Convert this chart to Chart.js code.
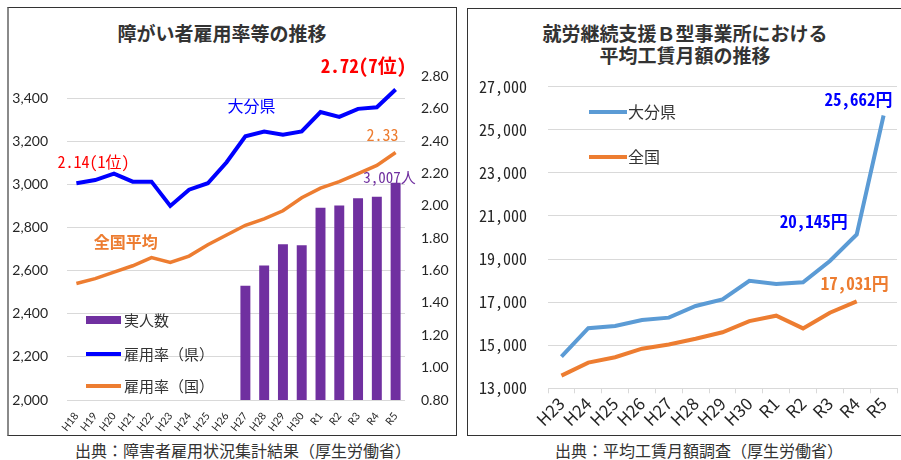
<!DOCTYPE html>
<html>
<head>
<meta charset="utf-8">
<script src="https://cdn.jsdelivr.net/npm/chart.js@4/dist/chart.umd.min.js"></script>
<style>
body { margin: 0; width: 901px; height: 460px; background: #fff; position: relative; overflow: hidden; font-family: 'Noto Sans CJK JP', sans-serif; color: #333; }
.panel { position: absolute; box-sizing: border-box; border: 1px solid #333; }
.title { position: absolute; text-align: center; font-weight: bold; font-size: 19px; line-height: 22px; color: #333; }
.caption { position: absolute; text-align: center; font-size: 16px; line-height: 20px; color: #333; }
canvas { position: absolute; }
</style>
</head>
<body>
<div class="panel" style="left:7px;top:7px;width:450px;height:429px;border-left:2px solid #8a8a8a;"></div>
<div class="panel" style="left:467px;top:8px;width:460px;height:428px;"></div>

<div class="title" style="left:0;top:22px;width:444px;">障がい者雇用率等の推移</div>
<div class="title" style="left:485px;top:22px;width:400px;">就労継続支援Ｂ型事業所における<br>平均工賃月額の推移</div>

<canvas id="left" width="448" height="426" style="left:8px;top:8px;"></canvas>
<canvas id="right" width="432" height="425" style="left:469px;top:9px;"></canvas>

<div class="caption" style="left:43px;top:440px;width:400px;">出典：障害者雇用状況集計結果（厚生労働省）</div>
<div class="caption" style="left:499px;top:440px;width:400px;">出典：平均工賃月額調査（厚生労働省）</div>

<script>
// 左：障がい者雇用率等
const years = ['H18','H19','H20','H21','H22','H23','H24','H25','H26','H27','H28','H29','H30','R1','R2','R3','R4','R5'];
const employees = [null,null,null,null,null,null,null,null,null,2530,2624,2722,2717,2891,2902,2935,2943,3007];
const rateOita = [2.14,2.16,2.20,2.15,2.15,2.00,2.10,2.14,2.27,2.43,2.46,2.44,2.46,2.58,2.55,2.60,2.61,2.72];
const rateJapan = [1.52,1.55,1.59,1.63,1.68,1.65,1.69,1.76,1.82,1.88,1.92,1.97,2.05,2.11,2.15,2.20,2.25,2.33];

// 右：平均工賃月額
const fiscalYears = ['H23','H24','H25','H26','H27','H28','H29','H30','R1','R2','R3','R4','R5'];
const wageOita = [14470,15790,15890,16170,16280,16820,17130,17990,17840,17920,18910,20145,25662];
const wageJapan = [13590,14190,14440,14840,15030,15300,15600,16120,16370,15780,16510,17031,null];

const MONO = "'Noto Sans Mono CJK JP', 'DejaVu Sans Mono', monospace";
const JP = "'Noto Sans CJK JP', sans-serif";
const PURPLE = '#7030A0', BLUE = '#0000FF', ORANGE = '#ED7D31', SKY = '#5B9BD5';

function text(ctx, str, x, y, color, font, align) {
    ctx.save();
    ctx.fillStyle = color;
    ctx.font = font;
    ctx.textAlign = align || 'center';
    ctx.textBaseline = 'middle';
    ctx.fillText(str, x, y);
    ctx.restore();
}

function swatch(ctx, x, y, w, color, lw) {
    ctx.save();
    ctx.strokeStyle = color;
    ctx.lineWidth = lw;
    ctx.beginPath();
    ctx.moveTo(x, y);
    ctx.lineTo(x + w, y);
    ctx.stroke();
    ctx.restore();
}

const leftNotes = {
    id: 'leftNotes',
    afterDatasetsDraw(chart) {
        const { ctx, chartArea: a, scales: { x, y, y1 } } = chart;
        const last = years.length - 1;
        text(ctx, '2.14(1位)', x.getPixelForValue(0) + 17, y1.getPixelForValue(rateOita[0]) - 21, '#FF0000', '16px ' + MONO);
        text(ctx, '2.72(7位)', x.getPixelForValue(last) - 32, y1.getPixelForValue(rateOita[last]) - 24, '#FF0000', 'bold 19px ' + MONO);
        text(ctx, '2.33', x.getPixelForValue(last) - 13, y1.getPixelForValue(rateJapan[last]) - 18, ORANGE, '16px ' + MONO);
        text(ctx, '3,007人', x.getPixelForValue(last) - 6, y.getPixelForValue(employees[last]) - 6, PURPLE, '15px ' + MONO);
        text(ctx, '大分県', x.getPixelForValue(9) + 6, y1.getPixelForValue(2.62), BLUE, '16px ' + JP);
        text(ctx, '全国平均', x.getPixelForValue(3) - 7, y1.getPixelForValue(rateJapan[3]) - 24, ORANGE, 'bold 16px ' + JP);

        // 凡例
        const lx = a.left + 19;
        ctx.fillStyle = PURPLE;
        ctx.fillRect(lx, 308, 35, 8);
        text(ctx, '実人数', lx + 38, 312, '#333', '15px ' + JP, 'left');
        swatch(ctx, lx, 346, 35, BLUE, 4);
        text(ctx, '雇用率（県）', lx + 38, 346, '#333', '15px ' + JP, 'left');
        swatch(ctx, lx, 378, 35, ORANGE, 4);
        text(ctx, '雇用率（国）', lx + 38, 378, '#333', '15px ' + JP, 'left');
    }
};

new Chart(document.getElementById('left'), {
    data: {
        labels: years,
        datasets: [
            { type: 'line', label: '雇用率（県）', data: rateOita, yAxisID: 'y1', borderColor: BLUE, borderWidth: 4, pointRadius: 0, tension: 0, order: 1 },
            { type: 'line', label: '雇用率（国）', data: rateJapan, yAxisID: 'y1', borderColor: ORANGE, borderWidth: 3.5, pointRadius: 0, tension: 0, order: 2 },
            { type: 'bar', label: '実人数', data: employees, yAxisID: 'y', backgroundColor: PURPLE, barPercentage: 0.53, categoryPercentage: 1, order: 3 }
        ]
    },
    options: {
        responsive: false,
        animation: false,
        devicePixelRatio: 1,
        layout: { padding: { top: 68.5, left: 0, right: 0, bottom: 0 } },
        scales: {
            x: {
                offset: true,
                grid: { display: false },
                border: { display: false },
                ticks: { autoSkip: false, minRotation: 52, maxRotation: 52, padding: 2, color: '#262626', font: { family: 'Lato', size: 10.5 } },
                afterFit: s => { s.height = 34; }
            },
            y: {
                position: 'left',
                min: 2000, max: 3500,
                border: { display: false },
                grid: { color: '#d9d9d9', drawTicks: false },
                ticks: { stepSize: 200, includeBounds: false, padding: 19, color: '#262626', font: { family: 'Lato', size: 14 } },
                afterFit: s => { s.width = 59; }
            },
            y1: {
                position: 'right',
                min: 0.8, max: 2.8,
                border: { display: false },
                grid: { display: false, drawTicks: false },
                ticks: { stepSize: 0.2, padding: 16, color: '#262626', font: { family: 'Lato', size: 14 }, callback: v => v.toFixed(2) },
                afterFit: s => { s.width = 51; }
            }
        },
        plugins: { legend: { display: false }, tooltip: { enabled: false } }
    },
    plugins: [leftNotes]
});

const rightNotes = {
    id: 'rightNotes',
    afterDatasetsDraw(chart) {
        const { ctx, chartArea: a, scales: { x, y } } = chart;
        const r5 = fiscalYears.length - 1, r4 = r5 - 1;
        text(ctx, '25,662円', x.getPixelForValue(r5) - 25, y.getPixelForValue(wageOita[r5]) - 16, BLUE, 'bold 17px ' + MONO);
        text(ctx, '20,145円', x.getPixelForValue(r4) - 43, y.getPixelForValue(wageOita[r4]) - 13, BLUE, 'bold 17px ' + MONO);
        text(ctx, '17,031円', x.getPixelForValue(r4) - 2, y.getPixelForValue(wageJapan[r4]) - 18, ORANGE, 'bold 17px ' + MONO);

        // 凡例
        const lx = a.left + 41;
        swatch(ctx, lx, 103, 38, SKY, 4);
        text(ctx, '大分県', lx + 39, 103, '#333', '16px ' + JP, 'left');
        swatch(ctx, lx, 148, 38, ORANGE, 4);
        text(ctx, '全国', lx + 39, 148, '#333', '16px ' + JP, 'left');
    }
};

new Chart(document.getElementById('right'), {
    type: 'line',
    data: {
        labels: fiscalYears,
        datasets: [
            { label: '大分県', data: wageOita, borderColor: SKY, borderWidth: 4, pointRadius: 0, tension: 0 },
            { label: '全国', data: wageJapan, borderColor: ORANGE, borderWidth: 4, pointRadius: 0, tension: 0 }
        ]
    },
    options: {
        responsive: false,
        animation: false,
        devicePixelRatio: 1,
        layout: { padding: { top: 77.7, left: 0, right: 4, bottom: 0 } },
        scales: {
            x: {
                offset: true,
                grid: { offset: true, drawOnChartArea: false, drawTicks: true, tickLength: 5, color: '#d9d9d9' },
                border: { display: false },
                ticks: { autoSkip: false, minRotation: 45, maxRotation: 45, padding: 0, color: '#262626', font: { family: JP, size: 17 } },
                afterFit: s => { s.height = 45.7; }
            },
            y: {
                min: 13000, max: 27000,
                border: { display: false },
                grid: { color: '#d9d9d9', drawTicks: false },
                ticks: { stepSize: 2000, padding: 21, color: '#262626', font: { family: MONO, size: 16 } },
                afterFit: s => { s.width = 79; }
            }
        },
        plugins: { legend: { display: false }, tooltip: { enabled: false } }
    },
    plugins: [rightNotes]
});
</script>
</body>
</html>
